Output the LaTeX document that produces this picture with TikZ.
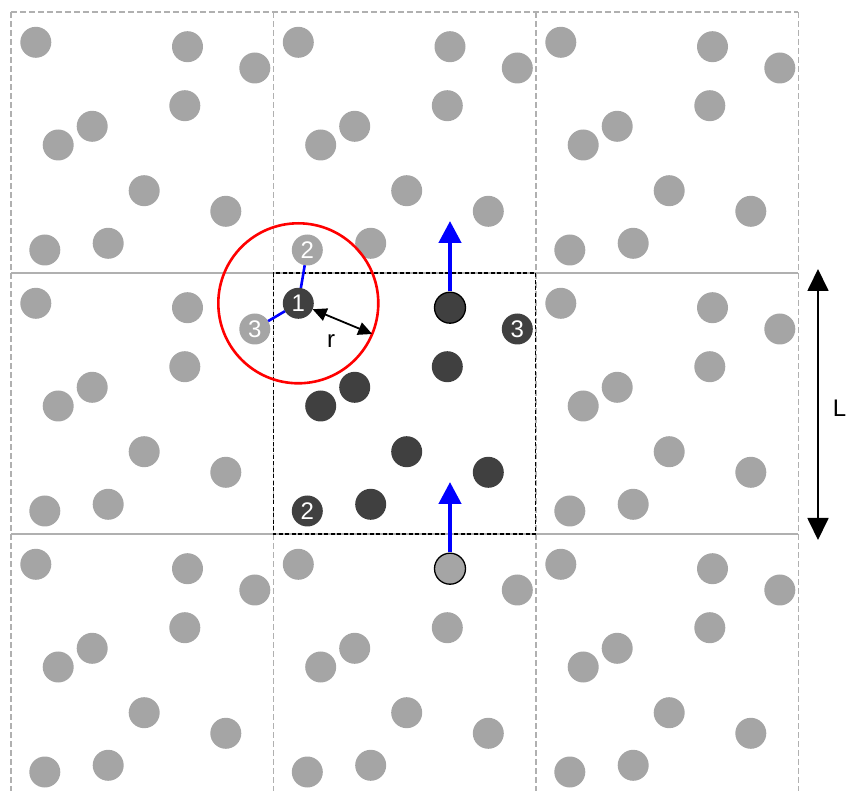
\documentclass[tikz,border=0pt]{standalone}
\usepackage{fontspec}
\setmainfont{Liberation Sans}
\usetikzlibrary{arrows.meta,calc}
\definecolor{lightp}{HTML}{A5A5A5}
\definecolor{darkp}{HTML}{404040}
\definecolor{gridc}{HTML}{B0B0B0}
\begin{document}
\begin{tikzpicture}[x=1pt,y=-1pt,
  cellline/.style={draw=gridc,line width=1.5pt,dash pattern=on 6pt off 3pt},
  mainbox/.style={draw=black,line width=1.2pt,dash pattern=on 4pt off 2.5pt},
  hline/.style={draw=gridc,line width=1.3pt},
  ghost/.style={circle,fill=lightp,minimum size=31pt,inner sep=0pt,outer sep=0pt},
  real/.style={circle,fill=darkp,minimum size=31pt,inner sep=0pt,outer sep=0pt},
  numlbl/.style={text=white,font=\fontsize{24}{28}\selectfont,inner sep=0pt},
  outl/.style={draw=black,line width=1.3pt},
  bondline/.style={draw=blue,line width=2.6pt},
  moveup/.style={draw=blue,line width=4.5pt,-{Triangle[length=22pt,width=22pt]}},
  rarrow/.style={draw=black,line width=1.8pt,{Triangle[length=14pt,width=13pt]}-{Triangle[length=14pt,width=13pt]}},
  larrow/.style={draw=black,line width=1.8pt,{Triangle[length=22pt,width=21pt]}-{Triangle[length=22pt,width=21pt]}},
  lbl/.style={font=\fontsize{24}{28}\selectfont,inner sep=0pt}]
\useasboundingbox (0,0) rectangle (847,791);
% grid of cells
\draw[cellline] (10.8,12) -- (798.3,12);
\foreach \x in {10.8,273.3,535.8,798.3}{
  \draw[cellline] (\x,12) -- (\x,795);
}
\draw[hline] (10.8,273) -- (798.3,273);
\draw[hline] (10.8,534) -- (798.3,534);
\draw[mainbox] (273.3,273) rectangle (535.8,534);
% particles
\foreach \i/\ci in {-1/a,0/b,1/c}{
  \foreach \j/\cj in {-1/a,0/b,1/c}{
    \foreach \k/\px/\py in {1/25/30.3,2/176.7/34.7,3/244/56,4/174/93.7,5/81.4/114.3,6/47.4/133,7/133.4/178.7,8/215/199.3,9/34/238,10/97.4/231.3}{
      \ifnum\i=0 \ifnum\j=0
        \node[real] (p\ci\cj\k) at ({273.3+\i*262.5+\px},{273+\j*261+\py}) {};
      \else
        \node[ghost] (p\ci\cj\k) at ({273.3+\i*262.5+\px},{273+\j*261+\py}) {};
      \fi\else
        \node[ghost] (p\ci\cj\k) at ({273.3+\i*262.5+\px},{273+\j*261+\py}) {};
      \fi
    }
  }
}
% outlined particles
\draw[outl] (pbb2.center) circle[radius=15.5];
\draw[outl] (pbc2.center) circle[radius=15.5];
% labels
\node[numlbl] (n1) at (pbb1) {1};
\node[numlbl] (n3) at (pbb3) {3};
\node[numlbl] (n2) at (pbb9) {2};
\node[numlbl] (g2) at (pba9) {2};
\node[numlbl] (g3) at (pab3) {3};
% bonds
\draw[bondline] (pbb1) -- (pba9);
\draw[bondline] (pbb1) -- (pab3);
% cutoff circle
\draw[red,line width=2.6pt] (pbb1.center) circle[radius=80];
\coordinate (rend) at ($(pbb1.center)+(73.9,30.7)$);
\draw[rarrow] (pbb1) -- (rend);
\node[lbl] (rl) at (331,341) {r};
% moving particle arrows
\coordinate (tipA) at (450,221);
\coordinate (tipB) at (450,482);
\draw[moveup] (pbb2.north) ++(0,-1.5) -- (tipA);
\draw[moveup] (pbc2.north) ++(0,-1.5) -- (tipB);
% box length
\coordinate (Ltop) at (818,269);
\coordinate (Lbot) at (818,540);
\draw[larrow] (Ltop) -- (Lbot);
\node[lbl,anchor=east] (Ll) at (846.5,408) {L};
\end{tikzpicture}
\end{document}
